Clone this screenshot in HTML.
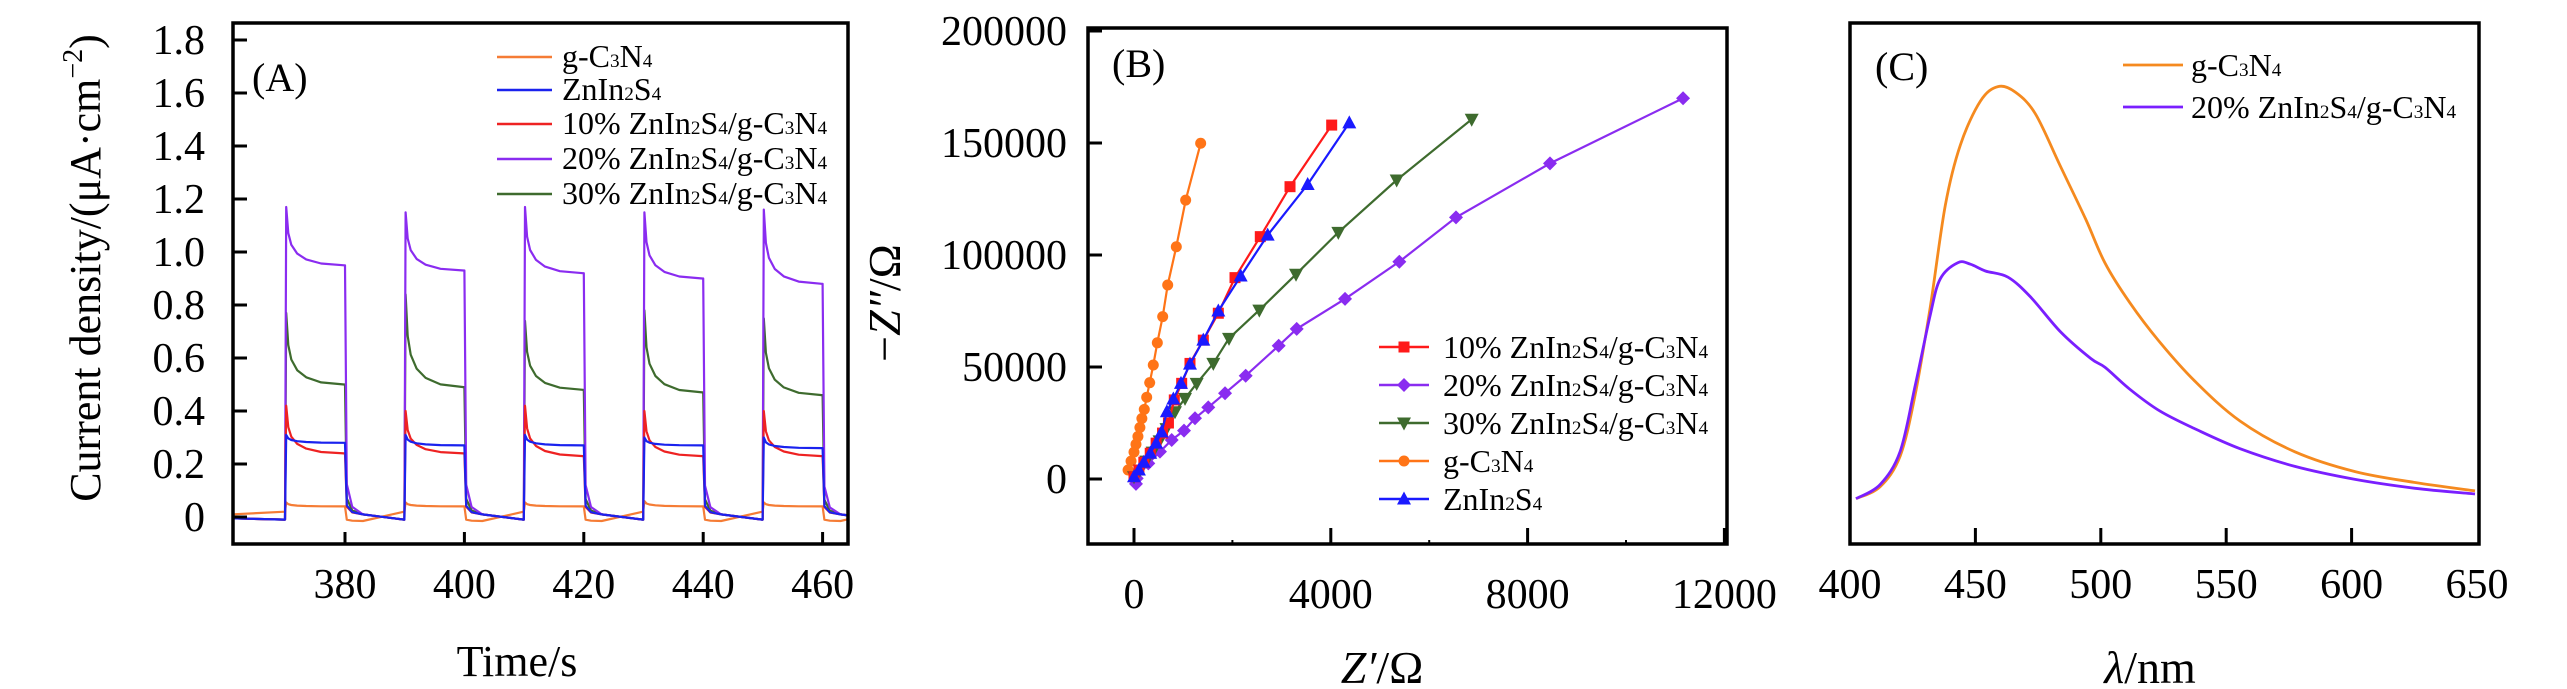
<!DOCTYPE html>
<html><head><meta charset="utf-8"><style>
html,body{margin:0;padding:0;background:#fff;}
svg{display:block;}
svg text, svg tspan{font-family:"Liberation Serif","Times New Roman",serif;}
</style></head><body>
<svg id="fig" width="2567" height="689" viewBox="0 0 2567 689" xmlns="http://www.w3.org/2000/svg" font-family="Liberation Serif, serif">
<g id="pa"></g>
<g id="pb"></g>
<g id="pc"></g>
</svg>
<script>
// ---------- Panel A data ----------
const aOnTimes = [370, 390, 410, 430, 450];
const aOffTimes = [380, 400, 420, 440, 460];
const aXTicks = [380, 400, 420, 440, 460];
const aYTicks = [0, 0.2, 0.4, 0.6, 0.8, 1.0, 1.2, 1.4, 1.6, 1.8];
const aNames = ["g-C3N4", "ZnIn2S4", "10% ZnIn2S4/g-C3N4", "20% ZnIn2S4/g-C3N4", "30% ZnIn2S4/g-C3N4"];
const aPeakOrange = [0.055, 0.055, 0.055, 0.06, 0.055];
const aPlatOrange = [0.04, 0.04, 0.04, 0.04, 0.04];
const aPeakBlue = [0.31, 0.31, 0.31, 0.30, 0.30];
const aPlatBlue = [0.28, 0.27, 0.27, 0.27, 0.26];
const aPeakRed = [0.42, 0.40, 0.42, 0.40, 0.40];
const aPlatRed = [0.24, 0.24, 0.23, 0.23, 0.23];
const aPeakPurple = [1.17, 1.15, 1.17, 1.15, 1.16];
const aPlatPurple = [0.95, 0.93, 0.92, 0.90, 0.88];
const aPeakGreen = [0.77, 0.84, 0.74, 0.78, 0.75];
const aPlatGreen = [0.50, 0.49, 0.48, 0.47, 0.46];
const aDarkStartOrange = -0.015, aDarkEndOrange = 0.02;
const aDarkStart = 0.01, aDarkEnd = -0.01;
const aShapeOffsets = [0, 0.15, 0.5, 1, 2, 3.5, 6, 9.85];
const aShapeFrac = [0, 1, 0.55, 0.35, 0.2, 0.1, 0.03, 0];

// ---------- Panel B data ----------
const bXTicks = [0, 4000, 8000, 12000];
const bXMinor = [2000, 6000, 10000];
const bYTicks = [0, 50000, 100000, 150000, 200000];
const bOrangeX = [-120, -60, 0, 40, 80, 120, 160, 209, 258, 319, 392, 474, 583, 685, 860, 1050, 1355];
const bOrangeY = [4000, 8000, 12000, 15500, 19000, 23000, 27000, 31100, 36500, 43000, 50900, 60800, 72500, 86600, 103700, 124500, 149900];
const bRedX = [0, 100, 200, 330, 450, 580, 700, 819, 969, 1138, 1409, 1714, 2053, 2567, 3171, 4018];
const bRedY = [1000, 4000, 7500, 11500, 16000, 20500, 25000, 35300, 42700, 51600, 62000, 74000, 89900, 108200, 130500, 158000];
const bBlueX = [0, 100, 200, 330, 450, 560, 668, 800, 955, 1138, 1409, 1714, 2168, 2717, 3530, 4376];
const bBlueY = [1000, 4000, 7500, 11500, 16000, 21000, 30000, 35700, 42700, 51300, 62000, 75000, 90600, 108900, 131500, 159000];
const bGreenX = [0, 120, 250, 380, 520, 660, 833, 1037, 1274, 1612, 1931, 2547, 3293, 4153, 5339, 6864];
const bGreenY = [1000, 4000, 8000, 12000, 17000, 22500, 30000, 36000, 42700, 51600, 62800, 75400, 91400, 110100, 133500, 160600];
const bPurpleX = [40, 55, 291, 528, 766, 1016, 1240, 1510, 1850, 2270, 2941, 3307, 4289, 5393, 6545, 8455, 11160];
const bPurpleY = [-2200, 300, 7000, 12200, 17400, 21600, 27100, 32000, 38300, 46100, 59500, 67000, 80400, 97000, 116800, 140900, 170000];

// ---------- Panel C data ----------
const cXTicks = [400, 450, 500, 550, 600, 650];
const cOrangeX = [402.4, 412, 420, 426, 432, 438, 444, 452, 459, 466, 474, 484, 494, 501.7, 511.6, 523.6, 537.6, 555.5, 577.4, 601.4, 625.3, 649.2];
const cOrangeY = [8.7, 11.0, 16.9, 28.7, 45.5, 65, 76.6, 85, 87.8, 86.7, 82.5, 72.4, 62.3, 53.9, 46.3, 38.7, 31.2, 23.6, 17.7, 13.9, 11.8, 10.2];
const cPurpleX = [402.4, 412, 420, 426, 432, 436, 443, 448, 454, 463, 472, 484, 496, 501.7, 511.6, 523.6, 537.6, 555.5, 577.4, 601.4, 625.3, 649.2];
const cPurpleY = [8.7, 11.4, 17.8, 30.4, 44, 50.9, 54, 53.7, 52.4, 51.2, 47.4, 40.7, 35.6, 33.9, 29.7, 25.5, 22.1, 18.3, 14.9, 12.4, 10.7, 9.6];

const NS = "http://www.w3.org/2000/svg";
const SERIF = "Liberation Serif, Times New Roman, serif";
function mk(parent, tag, attrs, text) {
  const e = document.createElementNS(NS, tag);
  for (const k in attrs) e.setAttribute(k, attrs[k]);
  if (tag === "text") e.setAttribute("font-family", SERIF);
  if (text !== undefined) e.textContent = text;
  parent.appendChild(e);
  return e;
}
function chem(parent, x, y, str, size, anchor) {
  const t = mk(parent, "text", {x: x, y: y, "font-size": size, "text-anchor": anchor || "start", fill: "#000"});
  const re = /([A-Za-z])(\d)/g;
  let out = [], last = 0, m;
  while ((m = re.exec(str)) !== null) {
    out.push([str.slice(last, m.index + 1), false]);
    out.push([m[2], true]);
    last = m.index + 2;
  }
  out.push([str.slice(last), false]);
  out.forEach(([s, sub]) => {
    if (!s) return;
    mk(t, "tspan", sub ? {"font-size": size * 0.6} : {}, s);
  });
  return t;
}
function pathFrom(xs, ys, sx, sy) {
  return xs.map((v, i) => (i ? "L" : "M") + sx(v).toFixed(1) + " " + sy(ys[i]).toFixed(1)).join(" ");
}
function smoothPath(xs, ys, sx, sy) {
  const P = xs.map((v, i) => [sx(v), sy(ys[i])]);
  let d = "M" + P[0][0].toFixed(1) + " " + P[0][1].toFixed(1);
  for (let i = 0; i < P.length - 1; i++) {
    const p0 = P[Math.max(0, i - 1)], p1 = P[i], p2 = P[i + 1], p3 = P[Math.min(P.length - 1, i + 2)];
    const c1 = [p1[0] + (p2[0] - p0[0]) / 6, p1[1] + (p2[1] - p0[1]) / 6];
    const c2 = [p2[0] - (p3[0] - p1[0]) / 6, p2[1] - (p3[1] - p1[1]) / 6];
    d += `C${c1[0].toFixed(1)} ${c1[1].toFixed(1)} ${c2[0].toFixed(1)} ${c2[1].toFixed(1)} ${p2[0].toFixed(1)} ${p2[1].toFixed(1)}`;
  }
  return d;
}

// ================= PANEL A =================
(function () {
  const g = document.getElementById("pa");
  const L = 233, T = 23, R = 848, B = 544;
  const sx = t => 345 + (t - 380) * 5.97;
  const sy = v => 517 - v * 265;
  const clip = mk(g, "clipPath", {id: "clipA"});
  mk(clip, "rect", {x: L, y: T, width: R - L, height: B - T});
  function buildSeries(peaks, plats, dStart, dEnd) {
    const xs = [], ys = [];
    xs.push(361); ys.push(dEnd * 0.5);
    aOnTimes.forEach((on, c) => {
      xs.push(on - 0.05); ys.push(dEnd);
      aShapeOffsets.forEach((o, k) => {
        if (k === 0) return;
        xs.push(on + o); ys.push(plats[c] + (peaks[c] - plats[c]) * aShapeFrac[k]);
      });
      const off = aOffTimes[c];
      xs.push(off); ys.push(plats[c]);
      xs.push(off + 0.3); ys.push(plats[c] * 0.12 + dStart);
      xs.push(off + 1.2); ys.push(dStart + plats[c] * 0.03);
      xs.push(off + 3); ys.push(dStart);
      xs.push(off + 9.9); ys.push(dEnd);
    });
    return [xs, ys];
  }
  const series = [
    {name: "orange", color: "#f57c35", d: buildSeries(aPeakOrange, aPlatOrange, aDarkStartOrange, aDarkEndOrange)},
    {name: "green", color: "#3e6b2e", d: buildSeries(aPeakGreen, aPlatGreen, aDarkStart, aDarkEnd)},
    {name: "purple", color: "#8a2cf0", d: buildSeries(aPeakPurple, aPlatPurple, aDarkStart, aDarkEnd)},
    {name: "red", color: "#ee2222", d: buildSeries(aPeakRed, aPlatRed, aDarkStart, aDarkEnd)},
    {name: "blue", color: "#1a22ee", d: buildSeries(aPeakBlue, aPlatBlue, aDarkStart, aDarkEnd)}
  ];
  const lg = mk(g, "g", {"clip-path": "url(#clipA)"});
  series.forEach(s => {
    const p = mk(lg, "path", {d: pathFrom(s.d[0], s.d[1], sx, sy), fill: "none", stroke: s.color, "stroke-width": 2.2, "stroke-linejoin": "round"});
    
    
  });
  const fr = mk(g, "rect", {x: L, y: T, width: R - L, height: B - T, fill: "none", stroke: "#000", "stroke-width": 3.5});
  
  
  aYTicks.forEach(v => {
    mk(g, "line", {x1: L, x2: L + 14, y1: sy(v), y2: sy(v), stroke: "#000", "stroke-width": 3});
    const t = mk(g, "text", {x: 205, y: sy(v) + 14, "font-size": 42, "text-anchor": "end"}, v === 0 ? "0" : v.toFixed(1));
    
    
  });
  aXTicks.forEach(v => {
    mk(g, "line", {x1: sx(v), x2: sx(v), y1: B, y2: B - 12, stroke: "#000", "stroke-width": 3});
    const t = mk(g, "text", {x: sx(v), y: 598, "font-size": 42, "text-anchor": "middle"}, String(v));
    
    
  });
  const xt = mk(g, "text", {x: 517, y: 676, "font-size": 44, "text-anchor": "middle"}, "Time/s");
  
  
  const yt = mk(g, "text", {x: 0, y: 0, "font-size": 44, "text-anchor": "middle", transform: "translate(100,268) rotate(-90)"});
  
  
  mk(yt, "tspan", {}, "Current density/(μA·cm");
  mk(yt, "tspan", {"font-size": 28, dy: -18}, "−2");
  mk(yt, "tspan", {dy: 18}, ")");
  const lab = mk(g, "text", {x: 252, y: 91, "font-size": 40}, "(A)");
  
  
  const legColors = ["#f57c35", "#1a22ee", "#ee2222", "#8a2cf0", "#3e6b2e"];
  const rows = [57, 90, 124, 159, 194];
  aNames.forEach((n, i) => {
    const lgI = mk(g, "g", {});
    
    
    mk(lgI, "line", {x1: 497, x2: 552, y1: rows[i], y2: rows[i], stroke: legColors[i], "stroke-width": 2.5});
    chem(lgI, 562, rows[i] + 10, n, 32);
  });
})();

// ================= PANEL B =================
(function () {
  const g = document.getElementById("pb");
  const L = 1088, T = 28, R = 1727, B = 544;
  const sx = z => 1134 + z * 0.0492;
  const sy = v => 479 - v * 0.00224;
  const clip = mk(g, "clipPath", {id: "clipB"});
  mk(clip, "rect", {x: L, y: T, width: R - L, height: B - T});
  function marker(par, type, x, y, color) {
    let e;
    if (type === "square") e = mk(par, "rect", {x: x - 5.5, y: y - 5.5, width: 11, height: 11, fill: color});
    else if (type === "circle") e = mk(par, "circle", {cx: x, cy: y, r: 5.5, fill: color});
    else if (type === "diamond") e = mk(par, "path", {d: `M${x} ${y - 7}L${x + 7} ${y}L${x} ${y + 7}L${x - 7} ${y}Z`, fill: color});
    else if (type === "up") e = mk(par, "path", {d: `M${x} ${y - 7.5}L${x + 7} ${y + 5.5}L${x - 7} ${y + 5.5}Z`, fill: color});
    else e = mk(par, "path", {d: `M${x} ${y + 7.5}L${x + 7} ${y - 5.5}L${x - 7} ${y - 5.5}Z`, fill: color});
    return e;
  }
  const series = [
    {name: "orange-gc3n4", xs: bOrangeX, ys: bOrangeY, color: "#ff7417", m: "circle"},
    {name: "purple-20pct", xs: bPurpleX, ys: bPurpleY, color: "#8a2cf0", m: "diamond"},
    {name: "green-30pct", xs: bGreenX, ys: bGreenY, color: "#3e6b2e", m: "down"},
    {name: "red-10pct", xs: bRedX, ys: bRedY, color: "#ff1a1a", m: "square"},
    {name: "blue-znin2s4", xs: bBlueX, ys: bBlueY, color: "#1a1aff", m: "up"}
  ];
  const lg = mk(g, "g", {"clip-path": "url(#clipB)"});
  series.forEach(s => {
    const sg = mk(lg, "g", {});
    
    
    mk(sg, "path", {d: pathFrom(s.xs, s.ys, sx, sy), fill: "none", stroke: s.color, "stroke-width": 2.2});
    s.xs.forEach((v, i) => {
      const mm = marker(sg, s.m, sx(v), sy(s.ys[i]), s.color);
      
      
    });
  });
  const fr = mk(g, "rect", {x: L, y: T, width: R - L, height: B - T, fill: "none", stroke: "#000", "stroke-width": 3.5});
  
  
  bYTicks.forEach(v => {
    mk(g, "line", {x1: L, x2: L + 14, y1: sy(v), y2: sy(v), stroke: "#000", "stroke-width": 3});
    const t = mk(g, "text", {x: 1067, y: sy(v) + 14, "font-size": 42, "text-anchor": "end"}, String(v));
    
    
  });
  bXTicks.forEach(v => {
    if (sx(v) < R - 2) mk(g, "line", {x1: sx(v), x2: sx(v), y1: B, y2: B - 16, stroke: "#000", "stroke-width": 3});
    const t = mk(g, "text", {x: sx(v), y: 608, "font-size": 42, "text-anchor": "middle"}, String(v));
    
    
  });
  bXMinor.forEach(v => mk(g, "line", {x1: sx(v), x2: sx(v), y1: B, y2: B - 4, stroke: "#000", "stroke-width": 2}));
  const xt = mk(g, "text", {x: 1382, y: 683, "font-size": 46, "text-anchor": "middle"});
  
  
  mk(xt, "tspan", {"font-style": "italic"}, "Z′");
  mk(xt, "tspan", {}, "/Ω");
  const yt = mk(g, "text", {x: 0, y: 0, "font-size": 46, "text-anchor": "middle", transform: "translate(900,303) rotate(-90)"});
  
  
  mk(yt, "tspan", {}, "−");
  mk(yt, "tspan", {"font-style": "italic"}, "Z″");
  mk(yt, "tspan", {}, "/Ω");
  const lab = mk(g, "text", {x: 1112, y: 77, "font-size": 40}, "(B)");
  
  
  const legN = ["10% ZnIn2S4/g-C3N4", "20% ZnIn2S4/g-C3N4", "30% ZnIn2S4/g-C3N4", "g-C3N4", "ZnIn2S4"];
  const legC = ["#ff1a1a", "#8a2cf0", "#3e6b2e", "#ff7417", "#1a1aff"];
  const legM = ["square", "diamond", "down", "circle", "up"];
  const rows = [347, 385, 423, 461, 499];
  legN.forEach((n, i) => {
    const le = mk(g, "g", {});
    
    
    mk(le, "line", {x1: 1379, x2: 1429, y1: rows[i], y2: rows[i], stroke: legC[i], "stroke-width": 2.5});
    marker(le, legM[i], 1404, rows[i], legC[i]);
    chem(le, 1443, rows[i] + 11, n, 32);
  });
})();

// ================= PANEL C =================
(function () {
  const g = document.getElementById("pc");
  const L = 1850, T = 23, R = 2479, B = 544;
  const sx = l => 1850 + (l - 400) * 2.508;
  const sy = v => 544 - v * 5.21;
  [{n: "orange-gc3n4", xs: cOrangeX, ys: cOrangeY, c: "#f58a1f"},
   {n: "purple-20pct", xs: cPurpleX, ys: cPurpleY, c: "#7a1fff"}].forEach(s => {
    const p = mk(g, "path", {d: smoothPath(s.xs, s.ys, sx, sy), fill: "none", stroke: s.c, "stroke-width": 2.8, "stroke-linejoin": "round"});
    
    
  });
  const fr = mk(g, "rect", {x: L, y: T, width: R - L, height: B - T, fill: "none", stroke: "#000", "stroke-width": 3.5});
  
  
  cXTicks.forEach(v => {
    if (v > 400 && v < 650) mk(g, "line", {x1: sx(v), x2: sx(v), y1: B, y2: B - 16, stroke: "#000", "stroke-width": 3});
    const t = mk(g, "text", {x: sx(v), y: 598, "font-size": 42, "text-anchor": "middle"}, String(v));
    
    
  });
  const xt = mk(g, "text", {x: 2150, y: 683, "font-size": 46, "text-anchor": "middle"});
  
  
  mk(xt, "tspan", {"font-style": "italic"}, "λ");
  mk(xt, "tspan", {}, "/nm");
  const lab = mk(g, "text", {x: 1875, y: 80, "font-size": 40}, "(C)");
  
  
  const legN = ["g-C3N4", "20% ZnIn2S4/g-C3N4"];
  const legC = ["#f58a1f", "#7a1fff"];
  const rows = [65, 107];
  legN.forEach((n, i) => {
    const le = mk(g, "g", {});
    
    
    mk(le, "line", {x1: 2123, x2: 2183, y1: rows[i], y2: rows[i], stroke: legC[i], "stroke-width": 2.8});
    chem(le, 2191, rows[i] + 11, n, 32);
  });
})();
</script>
</body></html>
